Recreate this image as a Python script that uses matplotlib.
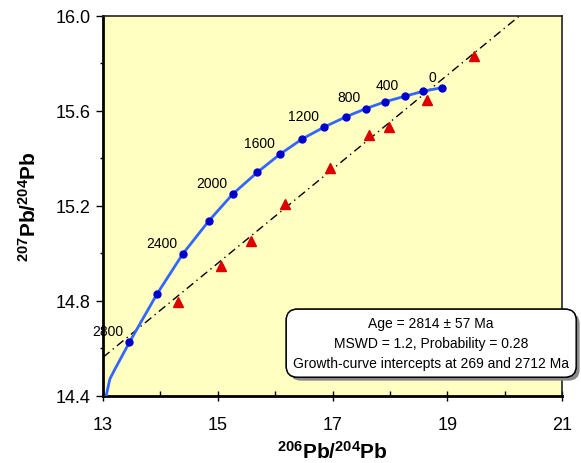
import matplotlib
matplotlib.use("Agg")
import matplotlib.pyplot as plt
import matplotlib.patheffects as pe
from matplotlib.ticker import FixedLocator

plt.rcParams['font.family'] = ['Liberation Sans', 'DejaVu Sans']
plt.rcParams['mathtext.fontset'] = 'custom'
plt.rcParams['mathtext.rm'] = 'Liberation Sans'
plt.rcParams['mathtext.bf'] = 'Liberation Sans:bold'

# growth curve points (ages 0 .. 2800 Ma, step 200)
curve_age = [0, 200, 400, 600, 800, 1000, 1200, 1400, 1600, 1800, 2000, 2200, 2400, 2600, 2800]
curve_x = [18.90, 18.58, 18.26, 17.92, 17.58, 17.23, 16.86, 16.47, 16.09, 15.69,
           15.26, 14.84, 14.39, 13.94, 13.46]
curve_y = [15.698, 15.683, 15.662, 15.639, 15.610, 15.575, 15.533, 15.482, 15.419, 15.342,
           15.250, 15.136, 14.998, 14.829, 14.626]
# older part of the curve, below the last dot
tail_x = [13.21, 13.12, 13.05]
tail_y = [14.514, 14.472, 14.396]

# sample data (red triangles)
sample_x = [19.47, 18.64, 17.99, 17.64, 16.96, 16.17, 15.58, 15.05, 14.30]
sample_y = [15.833, 15.648, 15.531, 15.499, 15.359, 15.208, 15.051, 14.946, 14.795]

# isochron
iso_x0, iso_y0 = 13.0, 14.563
iso_slope = 0.198

x_major = [13, 15, 17, 19, 21]
x_minor = [14, 16, 18, 20]
y_major = [14.4, 14.8, 15.2, 15.6, 16.0]
y_minor = [14.6, 15.0, 15.4, 15.8]

box_text = ("Age = 2814 \u00b1 57 Ma\n"
            "MSWD = 1.2, Probability = 0.28\n"
            "Growth-curve intercepts at 269 and 2712 Ma")

fig = plt.figure(figsize=(5.81, 4.64), dpi=100)
ax = fig.add_axes([0.1773, 0.1444, 0.79, 0.819])
ax.set_facecolor('#FFFFC1')

ax.axline((iso_x0, iso_y0), slope=iso_slope, color='black', lw=1,
          dashes=(6, 3, 1, 3), zorder=2)

ax.plot(curve_x + tail_x, curve_y + tail_y, color='#3366FF', lw=2, zorder=3)
ax.plot(curve_x, curve_y, 'o', color='#0000CC', ms=5, zorder=4)
ax.plot(sample_x, sample_y, '^', color='#DD0000', ms=6.5, zorder=4)

for age, x, y in zip(curve_age, curve_x, curve_y):
    if age % 400 == 0:
        ax.annotate(str(age), (x, y), xytext=(-4, 3), textcoords='offset points',
                    ha='right', va='bottom', fontsize=10)

ax.set_xlim(13, 21)
ax.set_ylim(14.4, 16.0)
ax.xaxis.set_major_locator(FixedLocator(x_major))
ax.xaxis.set_minor_locator(FixedLocator(x_minor))
ax.yaxis.set_major_locator(FixedLocator(y_major))
ax.yaxis.set_minor_locator(FixedLocator(y_minor))
ax.yaxis.set_major_formatter(plt.FormatStrFormatter('%.1f'))

ax.tick_params(axis='x', which='major', direction='inout', length=7, width=1,
               labelsize=13, pad=11)
ax.tick_params(axis='x', which='minor', direction='in', length=3.5, width=1)
ax.tick_params(axis='y', which='major', direction='out', length=5, width=1,
               labelsize=13, pad=4)
ax.tick_params(axis='y', which='minor', direction='out', length=2.5, width=1)

for side in ['left', 'bottom']:
    ax.spines[side].set_linewidth(2)
for side in ['top', 'right']:
    ax.spines[side].set_linewidth(1.2)
    ax.spines[side].set_color('#222222')

ax.set_xlabel('$\\mathbf{^{206}Pb/^{204}Pb}$', fontsize=15, labelpad=5)
ax.set_ylabel('$\\mathbf{^{207}Pb/^{204}Pb}$', fontsize=15, labelpad=11)

t = ax.text(0.715, 0.139, box_text, transform=ax.transAxes, ha='center', va='center',
            fontsize=10, linespacing=1.55, zorder=6, clip_on=False,
            bbox=dict(boxstyle='round,pad=0.5,rounding_size=0.8', fc='white',
                      ec='black', lw=1))
t.get_bbox_patch().set_path_effects([
    pe.withSimplePatchShadow(offset=(2.5, -2.5), shadow_rgbFace='#888888', alpha=1),
    pe.Normal()])

fig.savefig('out.png', dpi=100)
